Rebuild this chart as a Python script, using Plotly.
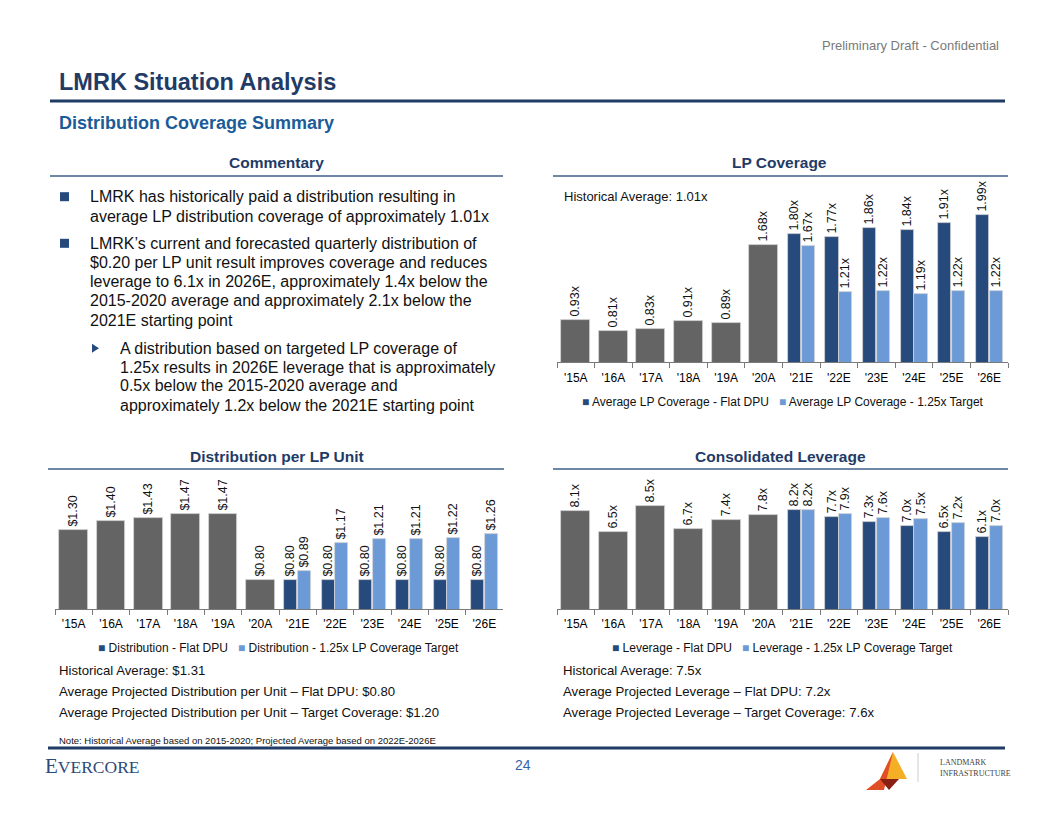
import plotly.graph_objects as go

# ---------------- data ----------------
years = ["'15A", "'16A", "'17A", "'18A", "'19A", "'20A",
         "'21E", "'22E", "'23E", "'24E", "'25E", "'26E"]
hist_years = years[:6]
proj_years = years[6:]

lp_hist = [0.93, 0.81, 0.83, 0.91, 0.89, 1.68]
lp_flat = [1.80, 1.77, 1.86, 1.84, 1.91, 1.99]
lp_target = [1.67, 1.21, 1.22, 1.19, 1.22, 1.22]

dist_hist = [1.30, 1.40, 1.43, 1.47, 1.47, 0.80]
dist_flat = [0.80, 0.80, 0.80, 0.80, 0.80, 0.80]
dist_target = [0.89, 1.17, 1.21, 1.21, 1.22, 1.26]

lev_hist = [8.1, 6.5, 8.5, 6.7, 7.4, 7.8]
lev_flat = [8.2, 7.7, 7.3, 7.0, 6.5, 6.1]
lev_target = [8.2, 7.9, 7.6, 7.5, 7.2, 7.0]

lp_legend = ["Average LP Coverage - Flat DPU", "Average LP Coverage - 1.25x Target"]
dist_legend = ["Distribution - Flat DPU", "Distribution - 1.25x LP Coverage Target"]
lev_legend = ["Leverage - Flat DPU", "Leverage - 1.25x LP Coverage Target"]

commentary = [
    (0, "LMRK has historically paid a distribution resulting in"),
    (0, "average LP distribution coverage of approximately 1.01x"),
    (0, "LMRK\u2019s current and forecasted quarterly distribution of"),
    (0, "$0.20 per LP unit result improves coverage and reduces"),
    (0, "leverage to 6.1x in 2026E, approximately 1.4x below the"),
    (0, "2015-2020 average and approximately 2.1x below the"),
    (0, "2021E starting point"),
    (1, "A distribution based on targeted LP coverage of"),
    (1, "1.25x results in 2026E leverage that is approximately"),
    (1, "0.5x below the 2015-2020 average and"),
    (1, "approximately 1.2x below the 2021E starting point"),
]
commentary_y = [196.7, 216, 243.3, 262.7, 281.7, 300.7, 320, 348.3, 367.3, 385.7, 405]

dist_notes = ["Historical Average: $1.31",
              "Average Projected Distribution per Unit \u2013 Flat DPU: $0.80",
              "Average Projected Distribution per Unit \u2013 Target Coverage: $1.20"]
lev_notes = ["Historical Average: 7.5x",
             "Average Projected Leverage \u2013 Flat DPU: 7.2x",
             "Average Projected Leverage \u2013 Target Coverage: 7.6x"]

# ---------------- helpers ----------------
# the page body has an 8px margin, so the figure is drawn 8px in from the corner
OFF = 8
W, H = 1040, 800


def px(x):
    return (x - OFF) / W


def py(y):
    return 1 - (y - OFF) / H


GRAY = "#646464"
NAVY = "#264A7C"
LIGHT = "#6C9AD6"
TITLE = "#1F3B66"
SUB = "#1A5C98"
RULE = "#3E5F8A"
FONT = "Arial, 'Liberation Sans', sans-serif"
SERIF = "'Liberation Serif', 'DejaVu Serif', serif"

fig = go.Figure()


def add_chart(xa, ya, hist, flat, target, fmt):
    common = dict(textposition="outside", textangle=-90, cliponaxis=False,
                  constraintext="none", texttemplate=fmt,
                  textfont=dict(family=FONT, size=12.5, color="#111111"),
                  showlegend=False, xaxis=xa, yaxis=ya, hoverinfo="x+y")
    fig.add_trace(go.Bar(x=hist_years, y=hist, width=0.77, offset=-0.385,
                         marker=dict(color=GRAY, line=dict(width=0.8, color="#d4d4d4")),
                         **common))
    fig.add_trace(go.Bar(x=proj_years, y=flat, width=0.35, offset=-0.36,
                         marker=dict(color=NAVY, line=dict(width=0.8, color="#d4d4d4")),
                         **common))
    fig.add_trace(go.Bar(x=proj_years, y=target, width=0.35, offset=0.01,
                         marker=dict(color=LIGHT, line=dict(width=0.8, color="#d4d4d4")),
                         **common))


add_chart("x", "y", lp_hist, lp_flat, lp_target, "%{y:.2f}x")
add_chart("x2", "y2", dist_hist, dist_flat, dist_target, "$%{y:.2f}")
add_chart("x3", "y3", lev_hist, lev_flat, lev_target, "%{y:.1f}x")


def xaxis(domain, anchor, standoff):
    return dict(domain=domain, anchor=anchor, type="category",
                categoryorder="array", categoryarray=years, range=[-0.5, 11.5],
                showline=True, linecolor="#7a7a7a", linewidth=1,
                ticks="outside", tickson="boundaries", ticklen=5, tickcolor="#7a7a7a",
                ticklabelstandoff=standoff,
                tickfont=dict(family=FONT, size=12, color="#000000"),
                showgrid=False, zeroline=False, fixedrange=True)


def yaxis(domain, anchor, rng):
    return dict(domain=domain, anchor=anchor, range=rng, visible=False,
                showgrid=False, zeroline=False, fixedrange=True)


# pixel scales: baseline at 0.5
lp_top = 0.5 + (362 - 180) / 98.8
dist_top = 0.5 + (609.3 - 478) / 98.6
lev_top = 0.5 + (609.3 - 478) / 12.88

fig.update_layout(
    width=W, height=H, margin=dict(l=0, r=0, t=0, b=0),
    paper_bgcolor="white", plot_bgcolor="white",
    barmode="overlay", bargap=0, showlegend=False,
    font=dict(family=FONT, color="#000000"),
    xaxis=xaxis([px(557), px(1008)], "y", 5),
    yaxis=yaxis([py(362), py(180)], "x", [0.5, lp_top]),
    xaxis2=xaxis([px(55), px(503)], "y2", 3),
    yaxis2=yaxis([py(609.3), py(478)], "x2", [0.5, dist_top]),
    xaxis3=xaxis([px(557), px(1008)], "y3", 3),
    yaxis3=yaxis([py(609.3), py(478)], "x3", [0.5, lev_top]),
)

annotations = []


def ann(text, x, y, size, color="#000000", xanchor="left", family=FONT, bold=False):
    if bold:
        text = "<b>" + text + "</b>"
    annotations.append(dict(text=text, x=px(x), y=py(y), xref="paper", yref="paper",
                            xanchor=xanchor, yanchor="middle", showarrow=False,
                            font=dict(family=family, size=size, color=color)))


# header
ann("Preliminary Draft - Confidential", 1001, 45, 13, "#7a7a7a", xanchor="right")
ann("LMRK Situation Analysis", 57, 82, 23.5, TITLE, bold=True)
ann("Distribution Coverage Summary", 57, 123, 18, SUB, bold=True)

# section titles
ann("Commentary", 276, 162, 15.5, TITLE, xanchor="center", bold=True)
ann("LP Coverage", 779, 162, 15.5, TITLE, xanchor="center", bold=True)
ann("Distribution per LP Unit", 276.5, 456, 15.5, TITLE, xanchor="center", bold=True)
ann("Consolidated Leverage", 780, 456, 15.5, TITLE, xanchor="center", bold=True)

# commentary text
for (lvl, line), yy in zip(commentary, commentary_y):
    ann(line, 88 if lvl == 0 else 118, yy, 16, "#111111")

# LP coverage note
ann("Historical Average: 1.01x", 562, 197, 13, "#111111")


def legend_text(labels):
    return ("<span style='color:%s'>\u25A0</span> %s   "
            "<span style='color:%s'>\u25A0</span> %s") % (NAVY, labels[0], LIGHT, labels[1])


ann(legend_text(lp_legend), 782.5, 402, 12, "#111111", xanchor="center")
ann(legend_text(dist_legend), 278.5, 648, 12, "#111111", xanchor="center")
ann(legend_text(lev_legend), 782.5, 648, 12, "#111111", xanchor="center")

# notes under charts
for t, yy in zip(dist_notes, [670, 691, 712]):
    ann(t, 57, yy, 13.2, "#111111")
for t, yy in zip(lev_notes, [670, 691, 712]):
    ann(t, 561, yy, 13.2, "#111111")
ann("Note: Historical Average based on 2015-2020; Projected Average based on 2022E-2026E",
    57, 740, 9.5, "#111111")

# footer
ann("<span style='font-size:21px'>E</span>VERCORE", 43, 766, 17.5, "#2E4A78", family=SERIF)
ann("24", 523, 765, 14, "#3563A8", xanchor="center")
ann("LANDMARK", 938, 762, 8, "#444444", family=SERIF)
ann("INFRASTRUCTURE", 938, 773, 8, "#444444", family=SERIF)

fig.update_layout(annotations=annotations)

# ---------------- decorative shapes ----------------
shapes = []


def hline(x0, x1, y, color, width):
    shapes.append(dict(type="line", xref="paper", yref="paper", x0=px(x0), x1=px(x1),
                       y0=py(y), y1=py(y), line=dict(color=color, width=width)))


hline(50, 1005, 101, TITLE, 3)
hline(50, 503, 176, RULE, 1.5)
hline(553, 1008, 176, RULE, 1.5)
hline(48, 504, 469, RULE, 1.5)
hline(553, 1008, 469, RULE, 1.5)
hline(48, 1005, 748, TITLE, 3)


def poly(points, color):
    d = "M " + " L ".join("%f,%f" % (px(a), py(b)) for a, b in points) + " Z"
    shapes.append(dict(type="path", xref="paper", yref="paper", path=d,
                       fillcolor=color, line=dict(width=0)))


# bullets
for yy in (196.7, 243.3):
    poly([(60, yy - 4.5), (69, yy - 4.5), (69, yy + 4.5), (60, yy + 4.5)], NAVY)
poly([(92, 348.3 - 4.5), (99, 348.3), (92, 348.3 + 4.5)], NAVY)

# landmark logo
poly([(893, 752), (907, 779), (880, 779)], "#F4AF26")
poly([(893, 752), (880, 779), (866, 790), (884, 790)], "#E04E28")
poly([(880, 779), (899, 779), (889, 790)], "#8A1F14")
shapes.append(dict(type="line", xref="paper", yref="paper", x0=px(918), x1=px(918),
                   y0=py(753), y1=py(782), line=dict(color="#cccccc", width=1)))

fig.update_layout(shapes=shapes)

fig.write_html("out.html")
